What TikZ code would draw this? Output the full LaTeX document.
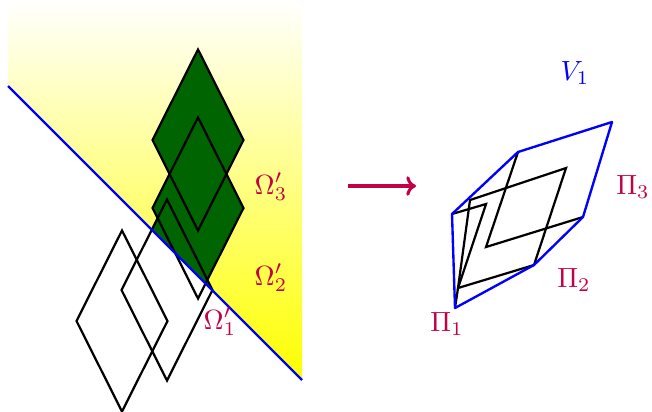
\documentclass[tikz,border=0pt]{standalone}
\usepackage{amsmath}
\usetikzlibrary{arrows.meta}
\definecolor{omegagreen}{RGB}{0,100,0}
\definecolor{labelcol}{RGB}{195,0,70}
\tikzset{
  rhomb/.style={draw=black,line width=0.8pt,line join=miter},
  cutline/.style={draw=blue,line width=0.85pt},
  hull/.style={draw=blue,line width=0.85pt,line join=round},
  lab/.style={text=labelcol,inner sep=1pt},
  maparrow/.style={-{To[length=3.5pt,width=7pt]},draw=labelcol,line width=1.1pt}
}
\begin{document}
\begin{tikzpicture}[x=0.36pt,y=-0.36pt]
  \useasboundingbox (0,0) rectangle (652,411);
  % half-plane above the cut
  \coordinate (a) at (8,0);    \coordinate (b) at (302,0);
  \coordinate (c) at (302,380); \coordinate (d) at (8,86);
  \shade[top color=white,bottom color=yellow] (a)--(b)--(c)--(d)--cycle;
  \begin{scope}
    \clip (a)--(b)--(c)--(d)--cycle;
    \foreach \cx/\cy in {167/290,198/208,198/140}
      \fill[omegagreen] (\cx,\cy-90.5)--(\cx+45.5,\cy)--(\cx,\cy+90.5)--(\cx-45.5,\cy)--cycle;
  \end{scope}
  \foreach \cx/\cy in {122/321,167/290,198/208,198/140}
    \draw[rhomb] (\cx,\cy-90.5)--(\cx+45.5,\cy)--(\cx,\cy+90.5)--(\cx-45.5,\cy)--cycle;
  \draw[cutline] (d)--(c);
  \node[lab] (om3) at (271,187) {$\Omega'_3$};
  \node[lab] (om2) at (271,278) {$\Omega'_2$};
  \node[lab] (om1) at (220,322) {$\Omega'_1$};
  % the map
  \coordinate (mapfrom) at (348,186); \coordinate (mapto) at (416,186);
  \draw[maparrow] (mapfrom)--(mapto);
  % image side
  \coordinate (p1) at (452,214); \coordinate (p2) at (518,152);
  \coordinate (p3) at (612,122); \coordinate (p4) at (583,217);
  \coordinate (p5) at (534,265); \coordinate (p6) at (455,308);
  \coordinate (q1) at (486,247);
  \coordinate (r1) at (470,200); \coordinate (r2) at (566,168);
  \coordinate (r4) at (458,288);
  \coordinate (s1) at (486,204);
  \draw[rhomb] (p2)--(q1)--(p4);
  \draw[rhomb] (r1)--(r2)--(p5)--(r4)--cycle;
  \draw[rhomb] (p1)--(s1)--(r4)--(p6);
  \draw[hull] (p1)--(p2)--(p3)--(p4)--(p5)--(p6)--cycle;
  \node[lab] (pi1) at (447,324) {$\Pi_1$};
  \node[lab] (pi2) at (574,280) {$\Pi_2$};
  \node[lab] (pi3) at (633,187) {$\Pi_3$};
  \node[text=blue,inner sep=1pt] (v1) at (575,73) {$V_1$};
\end{tikzpicture}
\end{document}
